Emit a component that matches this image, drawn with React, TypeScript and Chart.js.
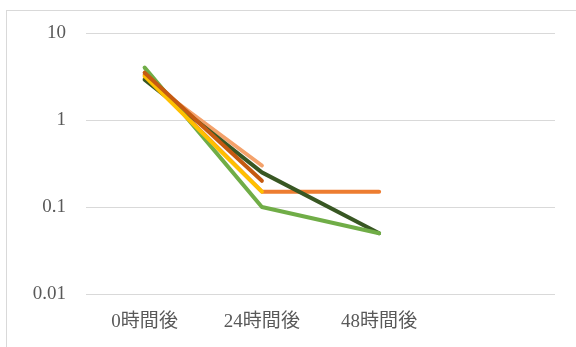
import React, { useEffect, useRef } from "react";
import { Chart, registerables } from "chart.js";

Chart.register(...registerables);

// Time points after treatment (last slot left empty)
const categories = ["0時間後", "24時間後", "48時間後", ""];

// Measured values per sample (null = not measured)
const seriesGreen = [4.0, 0.1, 0.05, null];
const seriesDarkGreen = [2.9, 0.25, 0.05, null];
const seriesYellow = [3.2, 0.15, null, null];
const seriesOrange = [3.3, 0.15, 0.15, null];
const seriesDarkOrange = [3.5, 0.2, null, null];
const seriesLightOrange = [3.0, 0.3, null, null];

const yTickValues = [0.01, 0.1, 1, 10];

const FONT = '"Liberation Serif", "Noto Sans CJK JP", serif';

export default function App() {
  const canvasRef = useRef<HTMLCanvasElement | null>(null);

  useEffect(() => {
    const canvas = canvasRef.current;
    if (!canvas) return;

    const line = (data: (number | null)[], color: string) => ({
      data,
      borderColor: color,
      backgroundColor: color,
      borderWidth: 4,
      borderCapStyle: "round" as const,
      borderJoinStyle: "round" as const,
      pointRadius: 0,
      pointHoverRadius: 0,
      spanGaps: false,
      tension: 0,
    });

    const chart = new Chart(canvas, {
      type: "line",
      data: {
        labels: categories,
        // first dataset is painted on top
        datasets: [
          line(seriesDarkOrange, "#C55A11"),
          line(seriesYellow, "#FFC000"),
          line(seriesGreen, "#70AD47"),
          line(seriesDarkGreen, "#385723"),
          line(seriesOrange, "#ED7D31"),
          line(seriesLightOrange, "#F4A26B"),
        ],
      },
      options: {
        animation: false,
        responsive: false,
        devicePixelRatio: 1,
        layout: { padding: { left: 0, top: 33, right: 21, bottom: 0 } },
        plugins: {
          legend: { display: false },
          tooltip: { enabled: false },
        },
        scales: {
          x: {
            type: "category",
            offset: true,
            grid: { display: false, drawTicks: false },
            border: { display: false },
            ticks: {
              padding: 17,
              color: "#595959",
              font: { family: FONT, size: 19 },
              maxRotation: 0,
              autoSkip: false,
            },
            afterFit: (scale: any) => {
              scale.height = 53;
            },
          },
          y: {
            type: "logarithmic",
            min: 0.01,
            max: 10,
            grid: { color: "#D9D9D9", lineWidth: 1, drawTicks: false },
            border: { display: false },
            afterBuildTicks: (scale: any) => {
              scale.ticks = yTickValues.map((v) => ({ value: v }));
            },
            ticks: {
              padding: 20,
              color: "#595959",
              font: { family: FONT, size: 19 },
              callback: (v: any) => String(v),
            },
            afterFit: (scale: any) => {
              scale.width = 86;
            },
          },
        },
      },
    });

    return () => chart.destroy();
  }, []);

  return (
    <div
      style={{
        position: "fixed",
        left: 0,
        top: 0,
        width: 576,
        height: 347,
        background: "#FFFFFF",
        overflow: "hidden",
      }}
    >
      <div
        style={{
          position: "absolute",
          left: 6,
          top: 10,
          width: 620,
          height: 400,
          border: "1px solid #D9D9D9",
          boxSizing: "border-box",
        }}
      />
      <canvas
        ref={canvasRef}
        width={576}
        height={347}
        style={{ position: "absolute", left: 0, top: 0, width: 576, height: 347 }}
      />
    </div>
  );
}
